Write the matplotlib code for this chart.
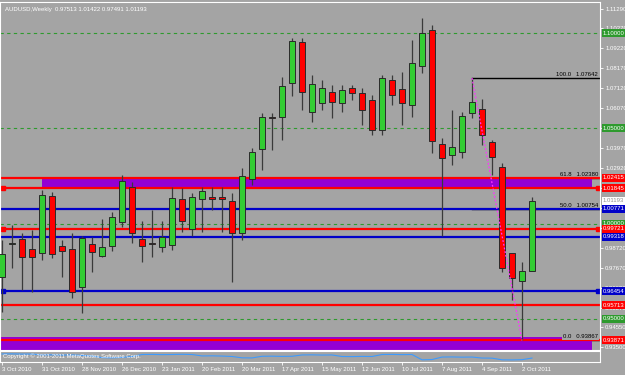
import numpy as np
import matplotlib
matplotlib.use('Agg')
import matplotlib.pyplot as plt
import matplotlib.transforms as mtransforms

plt.rcParams['font.family'] = ['Liberation Sans', 'DejaVu Sans']

# AUDUSD weekly bars, 3 Oct 2010 .. 9 Oct 2011
opens = [0.97198, 0.98930, 0.99193, 0.98668, 0.98458, 1.01450, 0.98825, 0.98668, 0.96695, 0.98930,
         0.98300, 0.98825, 1.00085, 1.01923, 0.99193, 0.98999, 0.98773, 0.98878, 1.01293, 0.99718,
         1.01293, 1.01398, 1.01398, 1.01188, 0.99508, 1.02343, 1.03918, 1.05598, 1.05598, 1.07383,
         1.09535, 1.05860, 1.06333, 1.06910, 1.06333, 1.07120, 1.06858, 1.06490, 1.04915, 1.07540,
         1.07068, 1.06228, 1.08275, 1.10165, 1.04180, 1.03603, 1.03760, 1.05808, 1.06018, 1.04285,
         1.02973, 0.98455, 0.96995, 0.97513]
highs = [0.99140, 0.99928, 0.99508, 0.99665, 1.01765, 1.01660, 0.99140, 0.99508, 0.99350, 0.99298,
         1.00243, 1.00610, 1.02553, 1.02185, 1.00140, 1.00715, 1.00140, 1.01923, 1.01870, 1.01608,
         1.01923, 1.01923, 1.01923, 1.01608, 1.02920, 1.03970, 1.05808, 1.05808, 1.07698, 1.09750,
         1.09750, 1.07803, 1.07540, 1.07278, 1.07278, 1.07278, 1.07120, 1.06753, 1.07803, 1.07803,
         1.07960, 1.09640, 1.10795, 1.10428, 1.04490, 1.05965, 1.05860, 1.07642, 1.06543, 1.04390,
         1.03183, 0.98300, 0.98000, 1.01422]
lows = [0.95360, 0.97670, 0.96515, 0.96410, 0.98090, 0.98195, 0.97198, 0.96095, 0.95308, 0.97460,
        0.98248, 0.98563, 0.99823, 0.98983, 0.97985, 0.98248, 0.98510, 0.98615, 0.99560, 0.99350,
        0.99560, 1.00715, 0.99560, 0.96935, 0.99140, 1.02028, 1.02815, 1.03870, 1.04390, 1.06700,
        1.05965, 1.05335, 1.05965, 1.05545, 1.05860, 1.06490, 1.05178, 1.04653, 1.04653, 1.06228,
        1.05178, 1.05598, 1.07908, 1.03708, 0.99350, 1.03078, 1.03450, 1.05545, 1.04128, 1.02553,
        0.97460, 0.95990, 0.93867, 0.97491]
closes = [0.98405, 0.99005, 0.98248, 0.98248, 1.01503, 0.98405, 0.98563, 0.96410, 0.99245, 0.98510,
          0.98773, 1.00348, 1.02238, 0.99508, 0.98825, 0.98946, 0.99298, 1.01345, 1.00140, 1.01398,
          1.01713, 1.01293, 1.01293, 0.99508, 1.02500, 1.03760, 1.05598, 1.05570, 1.07225, 1.09588,
          1.06910, 1.07330, 1.07120, 1.06385, 1.07015, 1.06858, 1.05965, 1.04915, 1.07645, 1.06753,
          1.06333, 1.08433, 1.10008, 1.04338, 1.03450, 1.04023, 1.05648, 1.06385, 1.04653, 1.03498,
          0.97670, 0.97143, 0.97520, 1.01193]

# indicator in the lower sub-window (0..100)
indicator = [73, 74, 72, 72, 64, 65, 63, 64, 60, 55, 40, 38, 42, 50, 68, 69, 67, 68, 70, 68,
             55, 56, 54, 50, 38, 37, 52, 53, 51, 52, 64, 65, 63, 64, 50, 49, 51, 50, 68, 69,
             67, 68, 20, 22, 45, 46, 44, 45, 36, 35, 20, 19, 21, 36]

date_pos = [0, 4, 8, 12, 16, 20, 24, 28, 32, 36, 40, 44, 48, 52]
date_labels = ['3 Oct 2010', '31 Oct 2010', '28 Nov 2010', '26 Dec 2010', '23 Jan 2011',
               '20 Feb 2011', '20 Mar 2011', '17 Apr 2011', '15 May 2011', '12 Jun 2011',
               '10 Jul 2011', '7 Aug 2011', '4 Sep 2011', '2 Oct 2011']

price_ticks = [1.11290, 1.10270, 1.09220, 1.08170, 1.07120, 1.06070, 1.05020, 1.03970, 1.02920,
               1.01870, 1.00820, 0.99770, 0.98720, 0.97670, 0.96620, 0.95570, 0.94550, 0.93500]

red_levels = [1.02415, 1.01845, 0.99721, 0.95713, 0.93871]
blue_levels = [1.00771, 0.99318, 0.96454]
green_levels = [1.10000, 1.05000, 1.00000, 0.95000]
selected_levels = [1.01845, 0.99721, 0.96454]
zones = [(4, 1.01845, 1.02415), (-1, 0.93370, 0.94050)]

fib_high = (47, 1.07642)
fib_low = (52, 0.93867)
fib_pcts = [0.0, 50.0, 61.8, 100.0]

current = (0.97513, 1.01422, 0.97491, 1.01193)

BG = '#A4A4A4'
RED = '#FF0000'
BLUE = '#0000C8'
GREEN = '#2E9A2E'
FS = 4.3

fig = plt.figure(figsize=(6.25, 3.75), dpi=100)
fig.patch.set_facecolor(BG)

ax = fig.add_axes([0.0, 25 / 375, 600 / 625, 348 / 375])
ax.set_facecolor(BG)
ax.set_xlim(-0.2, 59.8)
ax.set_ylim(0.93365, 1.11635)
for s in ax.spines.values():
    s.set_color('white')
    s.set_linewidth(0.8)

ax.set_xticks([])
ax.yaxis.tick_right()
ax.set_yticks(price_ticks)
ax.set_yticklabels(['%.5f' % v for v in price_ticks])
ax.tick_params(axis='y', colors='white', labelsize=FS, length=2.5, width=0.6, pad=1.2)

# zones
for start, lo, hi in zones:
    ax.fill_between([start, 59.0], lo, hi, color='#9400D3', lw=0, zorder=1)

# green dashed levels
for lv in green_levels:
    ax.axhline(lv, color=GREEN, lw=0.8, ls=(0, (3, 3)), zorder=1.5)

# fibonacci levels (only the top one shows, the rest sit under other lines)
fr = fib_high[1] - fib_low[1]
for p in fib_pcts:
    lv = fib_low[1] + p / 100.0 * fr
    ax.plot([fib_high[0], 59.8], [lv, lv], color='black', lw=1.0,
            zorder=1.6 if p == 100.0 else 0.9)
ax.plot([fib_high[0], fib_low[0]], [fib_high[1], fib_low[1]], color='#FF33FF',
        lw=0.9, ls=(0, (1.5, 1.5)), zorder=5)

for lv in red_levels:
    ax.axhline(lv, color=RED, lw=1.6, zorder=2)
for lv in blue_levels:
    ax.axhline(lv, color=BLUE, lw=1.6, zorder=2)
for lv in selected_levels:
    col = BLUE if lv in blue_levels else RED
    ax.plot([0.1, 59.6], [lv, lv], ls='none', marker='s', ms=3, mfc=col, mec=col, zorder=2.1)

# candles
o = np.array(opens)
h = np.array(highs)
l = np.array(lows)
c = np.array(closes)
idx = np.arange(len(o))
up = c >= o
ax.vlines(idx, l, h, color='#3a3a3a', lw=0.9, zorder=3)
body = np.maximum(np.abs(c - o), 0.0002)
ax.bar(idx, body, bottom=np.minimum(o, c), width=0.62,
       color=np.where(up, '#33CC33', RED), edgecolor='#2a2a2a', linewidth=0.7, zorder=4)

# fib texts
for p in fib_pcts:
    lv = fib_low[1] + p / 100.0 * fr
    kw = {}
    if p == 0.0:
        kw['bbox'] = dict(boxstyle='square,pad=0.1', fc=BG, ec='none')
    ax.text(59.6, lv + 0.0006, '%.1f   %.5f' % (p, lv), ha='right', va='bottom',
            fontsize=FS, color='black', zorder=6, **kw)

# title
ax.text(0.008, 0.985, 'AUDUSD,Weekly  %.5f %.5f %.5f %.5f' % current, transform=ax.transAxes,
        ha='left', va='top', fontsize=FS, color='white', zorder=7)

# price tags on the right axis
tr = mtransforms.blended_transform_factory(ax.transAxes, ax.transData)
tags = [(lv, GREEN, 'white') for lv in green_levels]
tags += [(lv, RED, 'white') for lv in red_levels]
tags += [(lv, BLUE, 'white') for lv in blue_levels]
tags += [(current[3], 'white', '#909090')]
for lv, fc, tc in tags:
    ax.text(1.0 + 3 / 600, lv, '%.5f' % lv, transform=tr, ha='left', va='center',
            fontsize=FS, color=tc, clip_on=False, zorder=10,
            bbox=dict(boxstyle='square,pad=0.25', fc=fc, ec='none'))

# sub-window
ax2 = fig.add_axes([0.0, 13 / 375, 600 / 625, 11 / 375])
ax2.set_facecolor(BG)
ax2.set_xlim(-0.2, 59.8)
ax2.set_ylim(0, 100)
for s in ax2.spines.values():
    s.set_color('white')
    s.set_linewidth(0.8)
ax2.plot(idx, indicator, color='#3D9BFF', lw=0.8)
ax2.text(0.005, 0.5, 'Copyright \u00a9 2001-2011 MetaQuotes Software Corp.', transform=ax2.transAxes,
         ha='left', va='center', fontsize=FS, color='white')
ax2.set_yticks([])
ax2.set_xticks(date_pos)
ax2.set_xticklabels(date_labels, ha='left')
ax2.tick_params(axis='x', colors='white', labelsize=FS, length=2.5, width=0.6, pad=1)

fig.savefig('out.png', dpi=100, facecolor=BG)
